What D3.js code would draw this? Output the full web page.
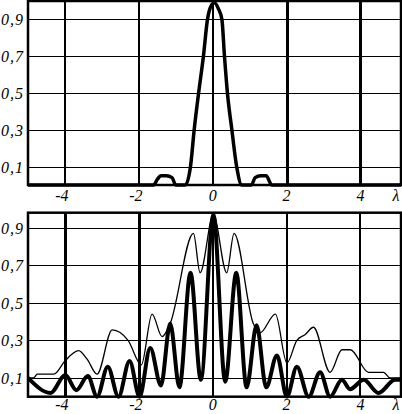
<!DOCTYPE html>
<html>
<head>
<meta charset="utf-8">
<script src="https://cdn.jsdelivr.net/npm/d3@7"></script>
<style>
  body { margin: 0; background: #fff; }
  svg { display: block; }
  .tick-label { font-family: "Liberation Serif", "Times New Roman", serif; font-style: italic; font-size: 16px; fill: #000; }
</style>
</head>
<body>
<div id="chart"></div>
<script>
// tick values and labels
var xTicks = [-4, -2, 0, 2, 4];
var yTicks = [0.1, 0.3, 0.5, 0.7, 0.9];
var yTickLabels = ["0,1", "0,3", "0,5", "0,7", "0,9"];
var xAxisName = "λ";

// top panel: main lobe plus two small side lobes
var topLambda = [-5, -1.6, -1.5, -1.4, -1.25, -1.1, -1.0, -0.74, -0.6, -0.5, -0.38, -0.25, -0.14, -0.05, 0.05, 0.15, 0.25, 0.32, 0.40, 0.52, 0.65, 0.79, 1.05, 1.15, 1.3, 1.45, 1.6, 5.1];
var topValue  = [0, 0, 0.03, 0.05, 0.05, 0.04, 0, 0, 0.1, 0.3, 0.5, 0.7, 0.9, 0.97, 0.99, 0.96, 0.9, 0.7, 0.5, 0.3, 0.1, 0, 0, 0.04, 0.05, 0.05, 0, 0];

// bottom panel: fringes (thick line)
var fringeLambda = [-5, -4.39, -3.99, -3.69, -3.38, -3.13, -2.84, -2.55, -2.25, -1.98, -1.69, -1.4, -1.15, -0.9, -0.6, -0.32, 0.02, 0.34, 0.64, 0.92, 1.19, 1.45, 1.74, 2.01, 2.28, 2.6, 2.91, 3.18, 3.5, 3.72, 4.09, 4.49, 4.94, 5.1];
var fringeValue  = [0.1, 0.02, 0.115, 0.035, 0.11, 0, 0.16, 0, 0.19, 0, 0.26, 0.06, 0.39, 0.05, 0.66, 0.09, 0.97, 0.08, 0.66, 0.05, 0.38, 0.05, 0.22, 0, 0.16, 0, 0.13, 0, 0.09, 0.04, 0.09, 0.02, 0.09, 0.09];

// bottom panel: envelope (thin line)
var envLambda = [-5, -4.85, -4.75, -4.3, -4.0, -3.63, -3.4, -3.13, -2.72, -2.29, -1.93, -1.64, -1.37, -1.15, -0.52, -0.34, 0.02, 0.38, 0.58, 1.1, 1.28, 1.70, 2.01, 2.28, 2.5, 2.73, 3.18, 3.5, 3.73, 4.22, 4.63, 4.8, 5.1];
var envValue  = [0.1, 0.1, 0.12, 0.12, 0.19, 0.245, 0.2, 0.12, 0.356, 0.30, 0.17, 0.44, 0.32, 0.39, 0.87, 0.66, 0.97, 0.66, 0.87, 0.39, 0.34, 0.44, 0.18, 0.30, 0.33, 0.37, 0.13, 0.25, 0.25, 0.13, 0.13, 0.1, 0.1];

var width = 402, height = 414;

var svg = d3.select("#chart").append("svg")
    .attr("width", width)
    .attr("height", height);

var x = d3.scaleLinear().domain([-5, 5.1]).range([28, 401]);

function zip(a, b) { return a.map(function(d, i) { return [d, b[i]]; }); }

function panel(top, bottom, yMax, series, thickGrid, labelDy) {
  var y = d3.scaleLinear().domain([0, yMax]).range([bottom, top]);
  var g = svg.append("g");

  // horizontal grid
  g.selectAll(".hgrid")
      .data(yTicks)
    .enter().append("line")
      .attr("x1", x.range()[0]).attr("x2", x.range()[1])
      .attr("y1", function(d) { return Math.round(y(d)) + 0.5; })
      .attr("y2", function(d) { return Math.round(y(d)) + 0.5; })
      .attr("stroke", "#000").attr("stroke-width", 1.3)
      .attr("shape-rendering", "crispEdges");

  // vertical grid
  g.selectAll(".vgrid")
      .data(xTicks)
    .enter().append("line")
      .attr("x1", function(d) { return Math.round(x(d)); })
      .attr("x2", function(d) { return Math.round(x(d)); })
      .attr("y1", top).attr("y2", bottom)
      .attr("stroke", "#000")
      .attr("stroke-width", function(d) { return thickGrid.indexOf(d) >= 0 ? 3 : 1.6; })
      .attr("shape-rendering", "crispEdges");

  // curves
  var line = d3.line()
      .curve(d3.curveMonotoneX)
      .x(function(d) { return x(d[0]); })
      .y(function(d) { return y(d[1]); });

  series.forEach(function(s) {
    g.append("path")
        .datum(s.data)
        .attr("fill", "none")
        .attr("stroke", "#000")
        .attr("stroke-width", s.w)
        .attr("stroke-linejoin", "round")
        .attr("d", line);
  });

  // frame
  g.append("rect")
      .attr("x", x.range()[0]).attr("y", top)
      .attr("width", x.range()[1] - x.range()[0])
      .attr("height", bottom - top)
      .attr("fill", "none")
      .attr("stroke", "#000")
      .attr("stroke-width", 2.5);

  // y labels
  g.selectAll(".ylab")
      .data(yTicks)
    .enter().append("text")
      .attr("class", "tick-label")
      .attr("x", 1)
      .attr("y", function(d) { return y(d) + 6; })
      .attr("text-anchor", "start")
      .style("letter-spacing", "1px")
      .text(function(d, i) { return yTickLabels[i]; });

  // x labels
  g.selectAll(".xlab")
      .data(xTicks)
    .enter().append("text")
      .attr("class", "tick-label")
      .attr("x", function(d) { return x(d) - (d < 0 ? 3 : 0); })
      .attr("y", bottom + labelDy)
      .attr("text-anchor", "middle")
      .text(function(d) { return d < 0 ? "-" + Math.abs(d) : d; });

  g.append("text")
      .attr("class", "tick-label")
      .attr("x", 396)
      .attr("y", bottom + labelDy)
      .attr("text-anchor", "middle")
      .text(xAxisName);
}

panel(1, 185, 1, [{data: zip(topLambda, topValue), w: 3.5}], [2, 4], 16);
panel(212.7, 396.7, 0.98, [
  {data: zip(envLambda, envValue), w: 1.3},
  {data: zip(fringeLambda, fringeValue), w: 4}
], [-4, -2], 13);
</script>
</body>
</html>
